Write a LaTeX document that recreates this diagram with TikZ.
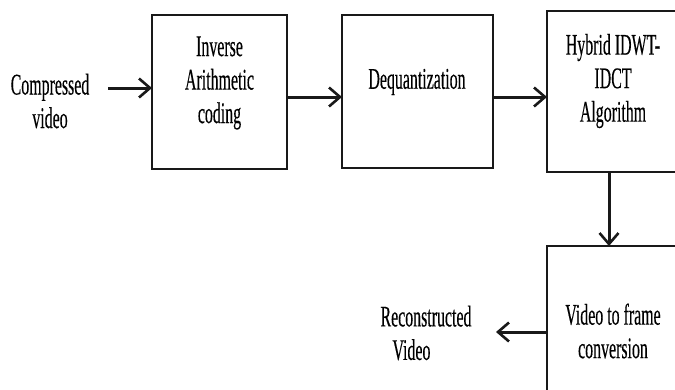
\documentclass[tikz,border=0pt]{standalone}
\usepackage{fontspec}
\newfontfamily\condserif[FakeStretch=0.53,FakeBold=0.3]{Liberation Serif}
\usetikzlibrary{arrows.meta}
\tikzset{
  blockbox/.style={draw=black!90, line width=2.9pt, fill=none},
  lbl/.style={font=\condserif\fontsize{30}{33.5}\selectfont, align=center, inner sep=0pt},
  flow/.style={line width=3pt, draw=black!90, -{Straight Barb[length=11pt,width=19pt,line width=2.6pt]}}
}
\begin{document}
\begin{tikzpicture}[x=1pt,y=-1pt]
\useasboundingbox (0,0) rectangle (675,389);
\clip (0,0) rectangle (675,389);
% boxes
\draw[blockbox] (152,15) rectangle (287,169);
\coordinate (b1w) at (152,88);
\coordinate (b1e) at (287,97);
\node[lbl] (t1) at (219.5,83) {Inverse\\Arithmetic\\coding};
\draw[blockbox] (342,15) rectangle (493,168);
\coordinate (b2w) at (342,97);
\coordinate (b2e) at (493,97);
\node[lbl] (t2) at (417,82) {Dequantization};
\draw[blockbox] (547,11) rectangle (690,172);
\coordinate (b3w) at (547,97);
\coordinate (b3s) at (609,172);
\node[lbl] (t3) at (613,81) {Hybrid IDWT-\\IDCT\\Algorithm};
\draw[blockbox] (547,246) rectangle (690,400);
\coordinate (b4n) at (609,246);
\coordinate (b4w) at (547,332);
\node[lbl] (t4) at (613,331) {Video to frame\\conversion};
% inputs / outputs
\node[lbl] (in) at (50,101) {Compressed\\video};
\coordinate (inE) at (108,88);
\node[lbl, align=left] (out) at (426,333) {Reconstructed\\\hspace*{12pt}Video};
\coordinate (outE) at (496,332);
% connectors
\draw[flow] (inE) -- (b1w);
\draw[flow] (b1e) -- (b2w);
\draw[flow] (b2e) -- (b3w);
\draw[flow] (b3s) -- (b4n);
\draw[flow] (b4w) -- (outE);
\end{tikzpicture}
\end{document}
